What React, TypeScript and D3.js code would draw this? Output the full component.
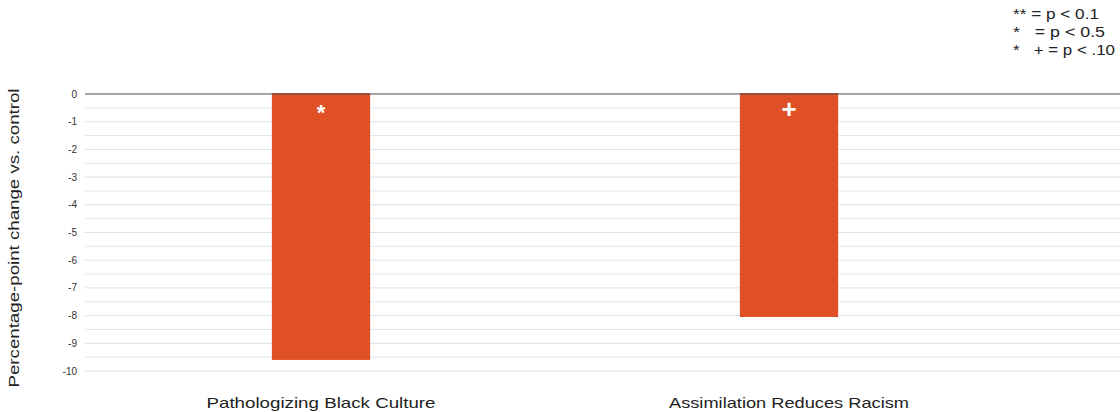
import React from "react";
import * as d3 from "d3";

const categories = ["Pathologizing Black Culture", "Assimilation Reduces Racism"];
const values = [-9.6, -8.05];
const markers = ["*", "+"];
const yTicks = [0, -1, -2, -3, -4, -5, -6, -7, -8, -9, -10];
const minorTicks = [-0.5, -1.5, -2.5, -3.5, -4.5, -5.5, -6.5, -7.5, -8.5, -9.5];
const legendLines = ["** = p < 0.1", "*   = p < 0.5", "*   + = p < .10"];
const yTitle = "Percentage-point change vs. control";

const W = 1120;
const H = 412;
const FONT = "'Liberation Sans', Arial, sans-serif";

export default function App() {
  const y = d3.scaleLinear().domain([0, -10]).range([94, 371]);
  const x = d3
    .scaleBand<string>()
    .domain(categories)
    .range([87, 1023])
    .paddingInner(0.79)
    .paddingOuter(0.395);
  const gridX0 = 85;
  const gridX1 = 1120;
  const catWidths = [229, 240];
  const legendWidths = [86, 92, 102];

  return (
    <svg
      width={W}
      height={H}
      style={{ position: "absolute", left: 0, top: 0, display: "block", background: "#fff" }}
      fontFamily={FONT}
    >
      {/* gridlines */}
      {minorTicks.map((t) => (
        <line key={"m" + t} x1={gridX0} x2={gridX1} y1={y(t)} y2={y(t)} stroke="#dde7ef" strokeWidth={1} />
      ))}
      {yTicks.filter((t) => t !== 0).map((t) => (
        <line key={"g" + t} x1={gridX0} x2={gridX1} y1={y(t)} y2={y(t)} stroke="#d6e2ec" strokeWidth={1} />
      ))}
      {/* tick labels */}
      {yTicks.map((t) => (
        <text key={"t" + t} x={77} y={y(t)} dy="0.35em" textAnchor="end" fontSize={10} fill="#333">
          {t}
        </text>
      ))}
      {/* bars */}
      {categories.map((c, i) => (
        <rect
          key={c}
          x={x(c)}
          y={y(0) - 1}
          width={x.bandwidth()}
          height={y(values[i]) - y(0) + 1}
          fill="#df5027"
        />
      ))}
      {/* zero line */}
      <line x1={gridX0} x2={gridX1} y1={y(0)} y2={y(0)} stroke="#4a4a4a" strokeWidth={1.2} />
      {/* significance markers */}
      {categories.map((c, i) => (
        <text
          key={"s" + c}
          x={(x(c) as number) + x.bandwidth() / 2}
          y={markers[i] === "*" ? 120 : 118}
          textAnchor="middle"
          fontSize={markers[i] === "*" ? 22 : 26}
          fontWeight="bold"
          fill="#fff"
        >
          {markers[i]}
        </text>
      ))}
      {/* category labels */}
      {categories.map((c, i) => (
        <text
          key={"c" + c}
          x={(x(c) as number) + x.bandwidth() / 2}
          y={408}
          textAnchor="middle"
          fontSize={14.5}
          textLength={catWidths[i]}
          lengthAdjust="spacingAndGlyphs"
          fill="#222"
        >
          {c}
        </text>
      ))}
      {/* y title */}
      <text
        transform={`translate(19, 238) rotate(-90)`}
        textAnchor="middle"
        fontSize={14}
        textLength={299}
        lengthAdjust="spacingAndGlyphs"
        fill="#222"
      >
        {yTitle}
      </text>
      {/* legend */}
      {legendLines.map((l, i) => (
        <text
          key={"l" + i}
          x={1013}
          y={19 + i * 18}
          fontSize={14}
          textLength={legendWidths[i]}
          lengthAdjust="spacingAndGlyphs"
          fill="#222"
          style={{ whiteSpace: "pre" }}
        >
          {l}
        </text>
      ))}
    </svg>
  );
}
